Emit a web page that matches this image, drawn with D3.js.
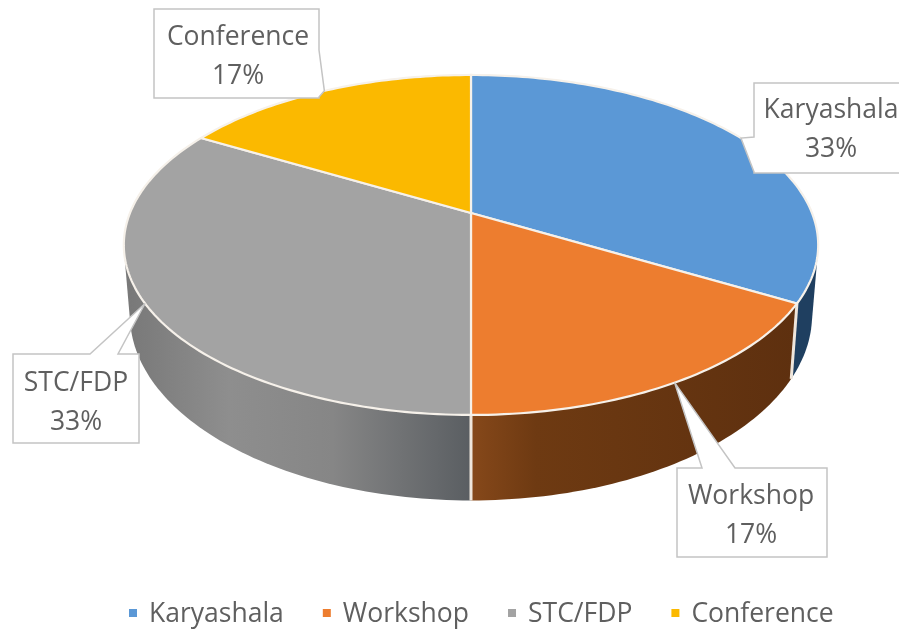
<!DOCTYPE html>
<html>
<head>
<meta charset="utf-8">
<script src="https://cdn.jsdelivr.net/npm/d3@7"></script>
<style>
  html, body { margin: 0; padding: 0; background: #fff; overflow: hidden; }
  svg { display: block; filter: blur(0.7px); }
  text { font-family: "Open Sans", sans-serif; fill: #5f5f5f; }
</style>
</head>
<body>
<svg id="chart" width="899" height="630"></svg>
<script>
var categories = ["Karyashala", "Workshop", "STC/FDP", "Conference"];
var values = [2, 1, 2, 1];
var colors = ["#5b98d6", "#ed7d2f", "#a3a3a3", "#fbb900"];

var width = 899, height = 630;
var total = d3.sum(values);

// perspective of the disc: unit circle -> screen, k is the tilt
var tilt = -0.188;
function projector(cx, cy, bx, by) {
    return function(angle) {
        var u = Math.sin(angle), v = -Math.cos(angle), w = 1 + tilt * v;
        return [cx + bx * u / w, cy + by * v / w];
    };
}
var topRim = projector(471, 213, 341, 164);
var lowRim = projector(471, 280, 335, 179);

function arcPoints(rim, a0, a1) {
    var n = Math.ceil((a1 - a0) / 0.02), pts = [];
    for (var i = 0; i <= n; i++) pts.push(rim(a0 + (a1 - a0) * i / n));
    return pts;
}

var pie = d3.pie().sort(null).value(function(d) { return d; });
var slices = pie(values);
var line = d3.line();

var svg = d3.select("#chart");
var defs = svg.append("defs");

function wallGradient(id, stops, x0, x1) {
    var g = defs.append("linearGradient").attr("id", id)
        .attr("gradientUnits", "userSpaceOnUse")
        .attr("x1", x0).attr("x2", x1).attr("y1", 0).attr("y2", 0);
    stops.forEach(function(s) {
        g.append("stop").attr("offset", s[0]).attr("stop-color", s[1]);
    });
}
wallGradient("wall0", [[0, "#1f3f60"], [1, "#1f3f60"]], 790, 820);
wallGradient("wall1", [[0, "#86481a"], [0.2, "#6e3a12"], [1, "#5e300f"]], 471, 795);
wallGradient("wall2", [[0, "#787878"], [0.3, "#8e8e8e"], [0.6, "#868686"], [1, "#5a5e62"]], 125, 471);
wallGradient("wall3", [[0, "#b38600"], [1, "#b38600"]], 125, 471);

// side walls, hull of both rims of each slice, top face hides the back part
svg.append("g").selectAll("path")
    .data(slices)
    .join("path")
    .attr("d", function(d) {
        var pts = arcPoints(topRim, d.startAngle, d.endAngle)
            .concat(arcPoints(lowRim, d.startAngle, d.endAngle));
        return line(d3.polygonHull(pts)) + "Z";
    })
    .attr("fill", function(d, i) { return "url(#wall" + i + ")"; });

// edges on the wall at the slice borders facing the viewer
svg.append("g").selectAll("line")
    .data(slices.filter(function(d) { return d.startAngle > 0 && d.startAngle < Math.PI * 1.01; }))
    .join("line")
    .attr("x1", function(d) { return topRim(d.startAngle)[0]; })
    .attr("y1", function(d) { return topRim(d.startAngle)[1]; })
    .attr("x2", function(d) { return lowRim(d.startAngle)[0]; })
    .attr("y2", function(d) { return lowRim(d.startAngle)[1]; })
    .attr("stroke", "#efe6dc")
    .attr("stroke-width", 3);

// top faces
svg.append("g").selectAll("path")
    .data(slices)
    .join("path")
    .attr("d", function(d, i) {
        return line([[471, 213]].concat(arcPoints(topRim, d.startAngle, d.endAngle))) + "Z";
    })
    .attr("fill", function(d, i) { return colors[i]; })
    .attr("stroke", "#f6f1ea")
    .attr("stroke-width", 2.2)
    .attr("stroke-linejoin", "round");

// callouts, tip sits on the rim at the middle of the slice
var boxes = [
    {x0: 754, y0: 83, x1: 912, y1: 173, side: "left", b0: 137, b1: 172, tx: 831, ty: 118},
    {x0: 677, y0: 468, x1: 827, y1: 557, side: "top", b0: 702, b1: 735, tx: 751, ty: 504},
    {x0: 13, y0: 354, x1: 139, y1: 443, side: "top", b0: 90, b1: 118, tx: 76, ty: 391},
    {x0: 154, y0: 9, x1: 319, y1: 98, side: "right", b0: 50, b1: 97, tx: 238, ty: 45}
];

function calloutPath(b, tip) {
    var p = [[b.x0, b.y0]];
    if (b.side === "top") p.push([b.b0, b.y0], tip, [b.b1, b.y0]);
    p.push([b.x1, b.y0]);
    if (b.side === "right") p.push([b.x1, b.b0], tip, [b.x1, b.b1]);
    p.push([b.x1, b.y1], [b.x0, b.y1]);
    if (b.side === "left") p.push([b.x0, b.b1], tip, [b.x0, b.b0]);
    return line(p) + "Z";
}

var labels = svg.append("g").selectAll("g")
    .data(slices)
    .join("g");

labels.append("path")
    .attr("d", function(d, i) {
        return calloutPath(boxes[i], topRim((d.startAngle + d.endAngle) / 2));
    })
    .attr("fill", "#fff")
    .attr("stroke", "#c4c4c4")
    .attr("stroke-width", 1.5);

labels.append("text")
    .attr("x", function(d, i) { return boxes[i].tx; })
    .attr("y", function(d, i) { return boxes[i].ty; })
    .attr("text-anchor", "middle")
    .attr("font-size", 26.5)
    .text(function(d, i) { return categories[i]; });

labels.append("text")
    .attr("x", function(d, i) { return boxes[i].tx; })
    .attr("y", function(d, i) { return boxes[i].ty + 39; })
    .attr("text-anchor", "middle")
    .attr("font-size", 26.5)
    .text(function(d) { return Math.round(d.value / total * 100) + "%"; });

// legend
var legend = svg.append("g");
var legendX = 129;
categories.forEach(function(name, i) {
    var item = legend.append("g").attr("transform", "translate(" + legendX + ",0)");
    item.append("rect")
        .attr("x", 0).attr("y", 609).attr("width", 8).attr("height", 8)
        .attr("fill", colors[i]);
    var t = item.append("text")
        .attr("x", 20).attr("y", 622)
        .attr("font-size", 26.5)
        .text(name);
    legendX += 20 + t.node().getComputedTextLength() + 39;
});
</script>
</body>
</html>
